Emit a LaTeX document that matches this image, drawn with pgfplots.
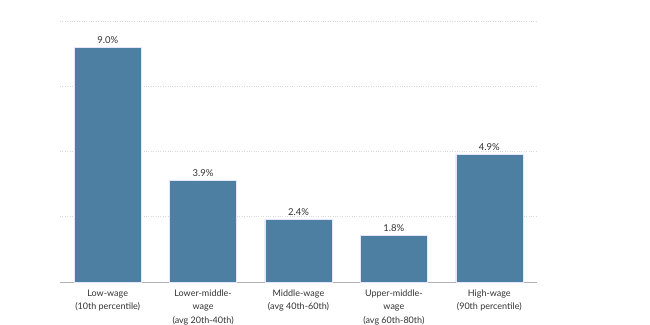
\documentclass[border=0pt]{standalone}
\usepackage{pgfplots}
\pgfplotsset{compat=1.18}
\usepackage{fontspec}
\setmainfont{Lato}
\definecolor{barblue}{RGB}{76,127,161}
\definecolor{txt}{RGB}{51,51,51}
\begin{document}
\begin{tikzpicture}
\path[use as bounding box] (-60bp,-43bp) rectangle (590bp,282bp);
\begin{axis}[
  at={(0,0)}, anchor=south west,
  scale only axis,
  width=477bp, height=261bp,
  xmin=-0.5, xmax=4.5,
  ymin=0, ymax=10,
  /pgf/number format/assume math mode=true,
  axis x line*=bottom,
  axis y line*=left,
  y axis line style={draw=none},
  x axis line style={draw=gray!60, line width=0.8pt, -},
  xtick=data,
  xticklabels={{Low-wage\\(10th percentile)},{Lower-middle-\\wage\\(avg 20th-40th)},{Middle-wage\\(avg 40th-60th)},{Upper-middle-\\wage\\(avg 60th-80th)},{High-wage\\(90th percentile)}},
  xticklabel style={align=center, font=\fontsize{9bp}{13.3bp}\selectfont, text=txt, anchor=north, yshift=-4.5bp},
  major tick length=0pt,
  ytick={2.5,5,7.5,10},
  yticklabels={},
  ymajorgrids,
  grid style={dotted, draw=gray!30, line width=0.9pt},
  ybar, bar width=67bp,
  nodes near coords={\pgfmathprintnumber[fixed,precision=1,fixed zerofill]{\pgfplotspointmeta}\%},
  nodes near coords style={font=\fontsize{9.5bp}{11bp}\selectfont, text=txt},
  clip=false,
]
\addplot[fill=barblue, draw=blue!10!white, line width=0.4pt] coordinates {(0,9.0) (1,3.9) (2,2.4) (3,1.8) (4,4.9)};
\end{axis}
\end{tikzpicture}
\end{document}
